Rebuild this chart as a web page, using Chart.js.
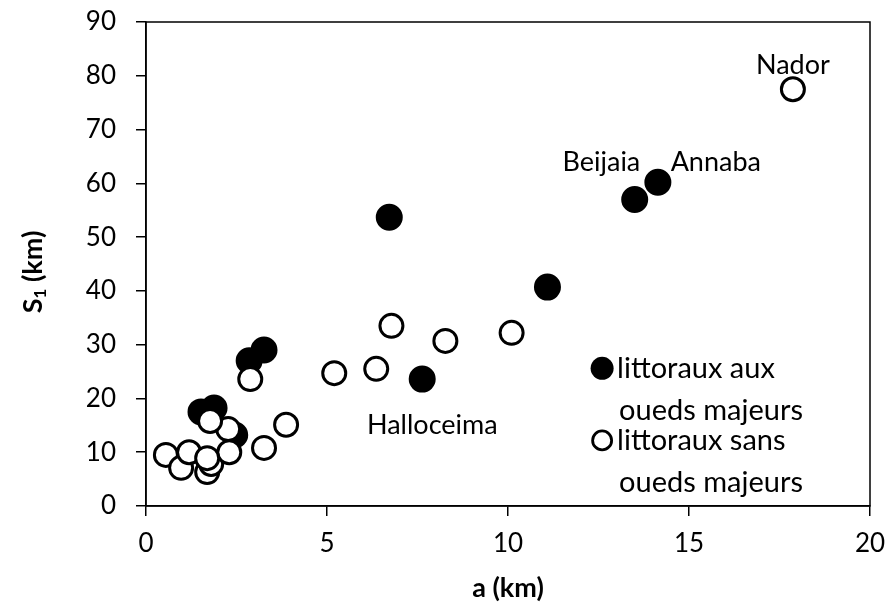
<!DOCTYPE html>
<html>
<head>
<meta charset="utf-8">
<script src="https://cdn.jsdelivr.net/npm/chart.js@4.4.1/dist/chart.umd.min.js"></script>
<style>
  html, body { margin: 0; padding: 0; background: #fff; }
  #wrap { width: 889px; height: 604px; }
</style>
</head>
<body>
<div id="wrap"><canvas id="chart" width="889" height="604"></canvas></div>
<script>
// littoraux aux oueds majeurs (filled)
const majorX = [13.5, 14.14, 6.72, 11.09, 7.63, 3.26, 2.85, 1.52, 1.88, 2.45];
const majorY = [57.0, 60.2, 53.7, 40.7, 23.6, 29.0, 27.0, 17.5, 18.2, 13.2];

// littoraux sans oueds majeurs (open)
const minorX = [17.87, 6.78, 8.27, 10.1, 6.36, 5.2, 2.88, 2.27, 3.87, 3.26, 0.55, 0.97, 1.19, 1.69, 1.8, 2.3, 1.69, 1.77];
const minorY = [77.5, 33.5, 30.7, 32.2, 25.5, 24.7, 23.6, 14.3, 15.1, 10.8, 9.5, 7.1, 10.0, 6.3, 7.8, 10.0, 8.9, 15.8];

const xTicks = [0, 5, 10, 15, 20];
const yTicks = [0, 10, 20, 30, 40, 50, 60, 70, 80, 90];

const placeNames = ['Nador', 'Annaba', 'Beijaia', 'Halloceima'];
const placeX = [17.87, 15.74, 12.58, 7.91];
const placeY = [82.0, 63.9, 63.9, 15.0];

const FONT = 'Lato, "Open Sans", sans-serif';

const toPoints = (xs, ys) => xs.map((x, i) => ({ x: x, y: ys[i] }));

// texts, frame, axis titles and the in-plot legend
const extras = {
    id: 'extras',
    afterDraw(chart) {
        const ctx = chart.ctx;
        const a = chart.chartArea;
        const sx = chart.scales.x;
        const sy = chart.scales.y;
        ctx.save();

        // frame
        ctx.strokeStyle = '#000';
        ctx.lineWidth = 1.5;
        ctx.strokeRect(a.left, a.top, a.right - a.left, a.bottom - a.top);

        // place labels
        ctx.fillStyle = '#000';
        ctx.font = '27px ' + FONT;
        ctx.textAlign = 'center';
        ctx.textBaseline = 'middle';
        placeNames.forEach((n, i) => {
            ctx.fillText(n, sx.getPixelForValue(placeX[i]), sy.getPixelForValue(placeY[i]));
        });

        // legend
        const lx = sx.getPixelForValue(12.6);
        const ly1 = sy.getPixelForValue(25.6);
        const ly2 = sy.getPixelForValue(12.2);
        ctx.beginPath();
        ctx.arc(lx, ly1, 11.5, 0, Math.PI * 2);
        ctx.fill();
        ctx.beginPath();
        ctx.arc(lx, ly2, 9.5, 0, Math.PI * 2);
        ctx.lineWidth = 2.8;
        ctx.fillStyle = '#fff';
        ctx.fill();
        ctx.stroke();
        ctx.fillStyle = '#000';
        ctx.textAlign = 'left';
        ctx.font = '29px ' + FONT;
        ctx.fillText('littoraux aux', lx + 15, ly1);
        ctx.fillText('oueds majeurs', lx + 17, ly1 + 42);
        ctx.fillText('littoraux sans', lx + 15, ly2);
        ctx.fillText('oueds majeurs', lx + 17, ly2 + 42);

        // x title
        ctx.font = 'bold 27px ' + FONT;
        ctx.textAlign = 'center';
        ctx.fillText('a (km)', (a.left + a.right) / 2, 588);

        // y title with subscript
        ctx.translate(33, 272);
        ctx.rotate(-Math.PI / 2);
        const wS = ctx.measureText('S').width;
        ctx.font = 'bold 17px ' + FONT;
        const w1 = ctx.measureText('1').width;
        ctx.font = 'bold 27px ' + FONT;
        const wRest = ctx.measureText(' (km)').width;
        const x0 = -(wS + w1 + wRest) / 2;
        ctx.textAlign = 'left';
        ctx.fillText('S', x0, 0);
        ctx.font = 'bold 17px ' + FONT;
        ctx.fillText('1', x0 + wS, 8);
        ctx.font = 'bold 27px ' + FONT;
        ctx.fillText(' (km)', x0 + wS + w1, 0);

        ctx.restore();
    },
};

new Chart(document.getElementById('chart'), {
    type: 'scatter',
    data: {
        datasets: [
            {
                label: 'littoraux aux oueds majeurs',
                data: toPoints(majorX, majorY),
                backgroundColor: '#000',
                borderColor: '#000',
                borderWidth: 3,
                pointRadius: 12,
                order: 2,
            },
            {
                label: 'littoraux sans oueds majeurs',
                data: toPoints(minorX, minorY),
                backgroundColor: '#fff',
                borderColor: '#000',
                borderWidth: 3,
                pointRadius: 11.5,
                order: 1,
            },
        ],
    },
    options: {
        responsive: false,
        animation: false,
        layout: { padding: { top: 22, right: 19, left: 0, bottom: 0 } },
        plugins: { legend: { display: false }, tooltip: { enabled: false } },
        scales: {
            x: {
                type: 'linear',
                min: 0,
                max: 20,
                afterBuildTicks: (s) => { s.ticks = xTicks.map((v) => ({ value: v })); },
                afterFit: (s) => {
                    s.height = 98;
                    s.paddingLeft = 0;
                    s.paddingRight = 0;
                },
                grid: { drawOnChartArea: false, drawTicks: true, tickLength: 10, color: '#000', lineWidth: 1.5 },
                border: { color: '#000', width: 1.5 },
                ticks: { color: '#000', font: { family: FONT, size: 26 }, padding: 12, maxRotation: 0 },
            },
            y: {
                type: 'linear',
                min: 0,
                max: 90,
                afterBuildTicks: (s) => { s.ticks = yTicks.map((v) => ({ value: v })); },
                afterFit: (s) => {
                    s.width = 146;
                    s.paddingTop = 0;
                    s.paddingBottom = 0;
                },
                grid: { drawOnChartArea: false, drawTicks: true, tickLength: 10, color: '#000', lineWidth: 1.5 },
                border: { color: '#000', width: 1.5 },
                ticks: { color: '#000', font: { family: FONT, size: 26 }, padding: 20 },
            },
        },
    },
    plugins: [extras],
});
</script>
</body>
</html>
